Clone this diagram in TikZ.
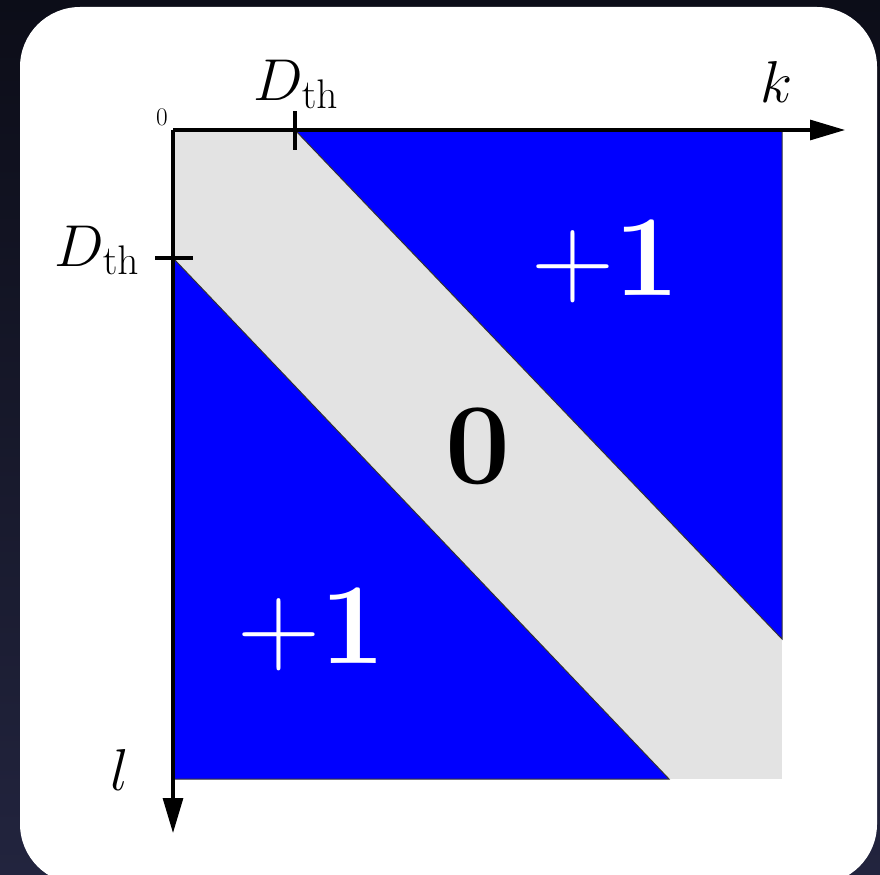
\documentclass[tikz,border=0pt]{standalone}
\usepackage{fix-cm}
\usepackage{amsmath}
\usepackage{xcolor}
\usepackage{tikz}
\usetikzlibrary{arrows.meta, calc}

\definecolor{bgdark}{RGB}{12,13,24}
\definecolor{bglight}{RGB}{34,36,62}
\definecolor{bandgray}{RGB}{227,227,227}
\definecolor{regblue}{RGB}{0,0,255}

\begin{document}
\begin{tikzpicture}[
  x=0.025cm, y=-0.025cm,
  axis/.style={line width=2.2pt, -{Triangle[length=0.875cm, width=0.5cm]}},
  tick/.style={line width=2.2pt},
  region/.style={fill=regblue, draw=black!80, line width=0.7pt},
  axlabel/.style={anchor=base, inner sep=0pt, font=\fontsize{42}{48}\selectfont},
  bigval/.style={anchor=base, inner sep=0pt, font=\fontsize{82}{92}\selectfont}
]
\useasboundingbox (0,0) rectangle (880,874);
\shade[top color=bgdark, bottom color=bglight] (0,0) rectangle (880,874);
\fill[white, rounded corners=1.5cm] (20,7) rectangle (877,884);

%% corners of the square and axis ends
\coordinate (O)    at (173,130);
\coordinate (kend) at (845,130);
\coordinate (lend) at (173,833);
\coordinate (tk)   at (295,130);
\coordinate (tl)   at (173,258);

%% regions
\fill[bandgray] (173,130) rectangle (782,779);
\draw[region] (tk) -- (782,130) -- (782,639) -- cycle;
\draw[region] (tl) -- (669,779) -- (173,779) -- cycle;

%% axes and ticks
\draw[axis] (O) -- (kend);
\draw[axis] (O) -- (lend);
\draw[tick] ($(tk)+(0,-19)$) -- ($(tk)+(0,20)$);
\draw[tick] ($(tl)+(-18,0)$) -- ($(tl)+(20,0)$);

%% labels
\node[axlabel] (dthk) at (296,100) {$D_{\mathrm{th}}$};
\node[axlabel] (dthl) at (97,266)  {$D_{\mathrm{th}}$};
\node[axlabel] (klab) at (777,103) {$k$};
\node[axlabel] (llab) at (120,790) {$l$};
\node[anchor=base, inner sep=0pt, font=\fontsize{18}{20}\selectfont] (zero) at (162,125) {0};

%% values
\node[bigval, white] (upone) at (605,295) {$+\mathbf{1}$};
\node[bigval, white] (loone) at (311,663) {$+\mathbf{1}$};
\node[bigval] (mid) at (478,483) {$\mathbf{0}$};
\end{tikzpicture}
\end{document}
